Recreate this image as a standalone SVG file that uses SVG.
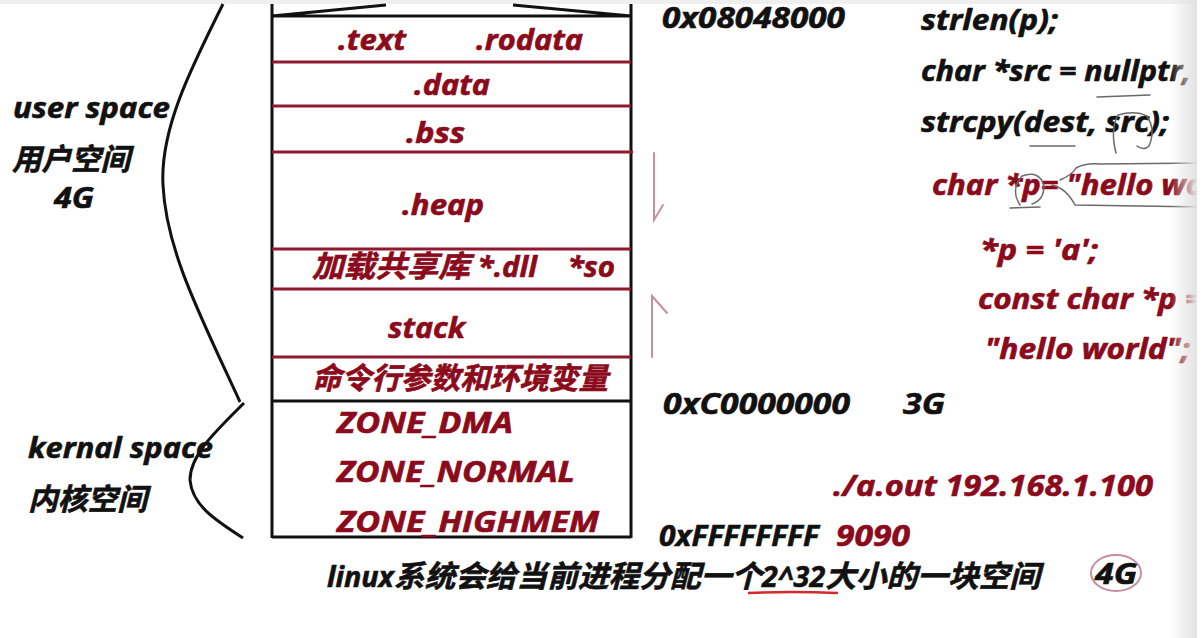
<svg xmlns="http://www.w3.org/2000/svg" width="1203" height="638" viewBox="0 0 1203 638">
<defs>
<linearGradient id="edge" x1="0" x2="1" y1="0" y2="0">
<stop offset="0" stop-color="#e2e2e2" stop-opacity="0"/>
<stop offset="1" stop-color="#e2e2e2" stop-opacity="1"/>
</linearGradient>
</defs>
<style>
text{font-family:"Open Sans","Noto Sans CJK SC",sans-serif;font-weight:700;font-style:italic;font-size:28px;white-space:pre}
.c{font-family:"Noto Sans CJK SC",sans-serif;font-size:30px}
.k{fill:#111;stroke:#111;stroke-width:0.6}
.r{fill:#8b0a1c;stroke:#8b0a1c;stroke-width:0.6}
.bl{stroke:#111;stroke-width:3;fill:none}
.rl{stroke:#8e1b2c;stroke-width:3;fill:none}
.hand{stroke:#6a6a6a;stroke-width:1.5;fill:none;stroke-linecap:round}
.pink{stroke:#c88ea0;stroke-width:2;fill:none;stroke-linecap:round}
</style>
<rect width="1203" height="638" fill="#fff"/>
<rect width="1203" height="4" fill="#efefef"/>

<g id="brace">
<path class="bl" d="M223,4 C190,70 160,130 163,185 C166,250 200,315 240,402"/>
<path class="bl" d="M244,403 C215,432 190,455 190,480 C192,505 215,520 243,538"/>
</g>

<g id="labels-left">
<text class="k" x="13" y="118" textLength="157" lengthAdjust="spacingAndGlyphs">user space</text>
<text class="k c" x="12" y="170" textLength="118" lengthAdjust="spacingAndGlyphs">用户空间</text>
<text class="k" x="54" y="208" textLength="40" lengthAdjust="spacingAndGlyphs">4G</text>
<text class="k" x="28" y="458" textLength="185" lengthAdjust="spacingAndGlyphs">kernal space</text>
<text class="k c" x="28" y="510" textLength="119" lengthAdjust="spacingAndGlyphs">内核空间</text>
</g>

<g id="memory-box">
<path class="bl" d="M272,4 V538 M631,4 V538 M272,16 H631 M272,16 L386,5 M513,5 L631,16 M272,401 H631 M272,537 H631"/>
<path class="rl" d="M272,62 H631 M272,106 H631 M272,152 H633 M272,249 H631 M272,289 H631 M272,357 H631"/>
</g>

<g id="seg-text">
<text class="r" x="338" y="50" textLength="68" lengthAdjust="spacingAndGlyphs">.text</text>
<text class="r" x="476" y="50" textLength="107" lengthAdjust="spacingAndGlyphs">.rodata</text>
</g>
<g id="seg-data"><text class="r" x="414" y="95" textLength="76" lengthAdjust="spacingAndGlyphs">.data</text></g>
<g id="seg-bss"><text class="r" x="406" y="143" textLength="59" lengthAdjust="spacingAndGlyphs">.bss</text></g>
<g id="seg-heap"><text class="r" x="402" y="215" textLength="82" lengthAdjust="spacingAndGlyphs">.heap</text></g>
<g id="seg-shlib"><text class="r" x="312" y="277" textLength="303" lengthAdjust="spacingAndGlyphs"><tspan class="c">加载共享库</tspan> *.dll    *so</text></g>
<g id="seg-stack"><text class="r" x="388" y="338" textLength="77" lengthAdjust="spacingAndGlyphs">stack</text></g>
<g id="seg-env"><text class="r c" x="312" y="389" textLength="296" lengthAdjust="spacingAndGlyphs">命令行参数和环境变量</text></g>
<g id="seg-kernel">
<text class="r" x="337" y="433" textLength="176" lengthAdjust="spacingAndGlyphs">ZONE_DMA</text>
<text class="r" x="337" y="482" textLength="238" lengthAdjust="spacingAndGlyphs">ZONE_NORMAL</text>
<text class="r" x="337" y="532" textLength="262" lengthAdjust="spacingAndGlyphs">ZONE_HIGHMEM</text>
</g>

<g id="connectors">
<path class="pink" d="M654,153 V220 L663,205"/>
<path class="pink" d="M652,357 V296 L667,313"/>
</g>

<g id="addresses">
<text class="k" x="662" y="28" textLength="183" lengthAdjust="spacingAndGlyphs">0x08048000</text>
<text class="k" x="663" y="414" textLength="187" lengthAdjust="spacingAndGlyphs">0xC0000000</text>
<text class="k" x="903" y="414" textLength="42" lengthAdjust="spacingAndGlyphs">3G</text>
<text class="k" x="659" y="546" textLength="160" lengthAdjust="spacingAndGlyphs">0xFFFFFFFF</text>
<text class="r" x="836" y="546" textLength="74" lengthAdjust="spacingAndGlyphs">9090</text>
<text class="r" x="833" y="496" textLength="320" lengthAdjust="spacingAndGlyphs">./a.out 192.168.1.100</text>
</g>

<g id="code">
<text class="k" x="921" y="30" textLength="137" lengthAdjust="spacingAndGlyphs">strlen(p);</text>
<text class="k" x="921" y="81" textLength="270" lengthAdjust="spacingAndGlyphs">char *src = nullptr,</text>
<text class="k" x="921" y="132" textLength="248" lengthAdjust="spacingAndGlyphs">strcpy(dest, src);</text>
<text class="r" x="932" y="195" textLength="272" lengthAdjust="spacingAndGlyphs">char *p= "hello wo</text>
<text class="r" x="980" y="260" textLength="118" lengthAdjust="spacingAndGlyphs">*p = 'a';</text>
<text class="r" x="978" y="309" textLength="225" lengthAdjust="spacingAndGlyphs">const char *p =</text>
<text class="r" x="985" y="359" textLength="205" lengthAdjust="spacingAndGlyphs">"hello world";</text>
</g>

<g id="annotations">
<path class="hand" d="M1097,97 L1150,95"/>
<path class="hand" d="M1030,146 L1075,146"/>
<path class="hand" d="M1116,153 Q1110,130 1118,115 Q1135,110 1147,116 Q1156,130 1149,146 Q1144,151 1137,146"/>
<path class="hand" d="M1010,208 L1040,207 M1020,205 Q1010,190 1022,176 Q1040,170 1044,186 Q1044,200 1032,204"/>
<path class="hand" d="M1052,185 Q1066,188 1075,205 L1203,207 M1060,180 Q1072,175 1076,168 Q1085,163 1100,164 L1203,163"/>
<ellipse cx="1116" cy="573" rx="25" ry="18" class="pink"/>
<path d="M748,593 Q790,591 838,593" stroke="#d42a2a" stroke-width="2.5" fill="none"/>
</g>

<g id="footer">
<text class="k" x="327" y="587" textLength="713" lengthAdjust="spacingAndGlyphs">linux<tspan class="c">系统会给当前进程分配一个</tspan>2^32<tspan class="c">大小的一块空间</tspan></text>
<text class="k" x="1095" y="584" textLength="42" lengthAdjust="spacingAndGlyphs">4G</text>
</g>

<rect x="1170" y="0" width="27" height="638" fill="url(#edge)"/>
<rect x="1197" y="0" width="6" height="638" fill="#fff"/>
</svg>
